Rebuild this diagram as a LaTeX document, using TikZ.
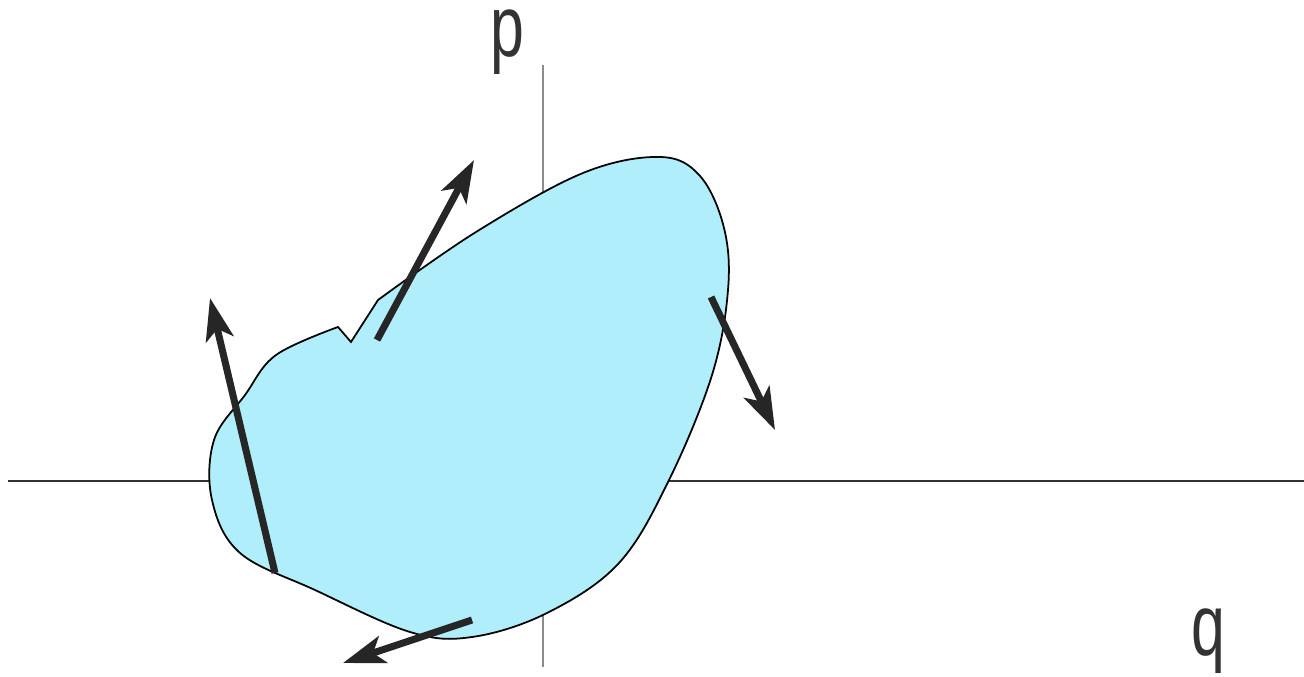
\documentclass[tikz,border=0pt]{standalone}
\usepackage{fontspec}
\setmainfont{Liberation Sans}
\usetikzlibrary{arrows.meta}
\definecolor{blobfill}{HTML}{B0EEFB}
\definecolor{vecgray}{HTML}{262626}
\begin{document}
\begin{tikzpicture}[x=0.01cm, y=-0.01cm,
  axisline/.style={line width=0.45pt},
  vecarrow/.style={vecgray, line width=2pt, -{Stealth[length=12pt, width=8pt, inset=3pt]}},
  axislabel/.style={anchor=base, inner sep=0pt, xscale=0.7, font=\fontsize{24.7}{30}\selectfont, text=black!80}]
\useasboundingbox (0,0) rectangle (1304,677);

% Axes (drawn first, the region covers them)
\draw[axisline, black!80] (8,481) -- (1304,481);
\draw[axisline, black!45] (543,65) -- (543,667);
\node[axislabel] (plabel) at (507,57) {p};
\node[axislabel] (qlabel) at (1208,656) {q};

% Phase-space region (sharp notch at the upper left)
\filldraw[fill=blobfill, draw=black, line width=0.5pt]
  (351,342) -- plot[smooth, tension=0.6] coordinates {
    (378,300) (476,232) (583,173) (660,157) (700,176) (724,228)
    (728,290) (712,375) (669,480) (619,563) (547,613) (472,637)
    (410,632) (315,590) (240,553) (212,500) (214,440) (245,395)
    (276,355) (338,327)}
  -- cycle;

% Flow vectors on the boundary
\coordinate (lefttail) at (275,573);
\coordinate (lefttip) at (210,298);
\coordinate (toptail) at (377,340);
\coordinate (toptip) at (474,160);
\coordinate (righttail) at (711,297);
\coordinate (righttip) at (775,430);
\coordinate (bottail) at (472,620);
\coordinate (bottip) at (343,663);
\draw[vecarrow] (lefttail) -- (lefttip);
\draw[vecarrow] (toptail) -- (toptip);
\draw[vecarrow] (righttail) -- (righttip);
\draw[vecarrow] (bottail) -- (bottip);

\end{tikzpicture}
\end{document}
